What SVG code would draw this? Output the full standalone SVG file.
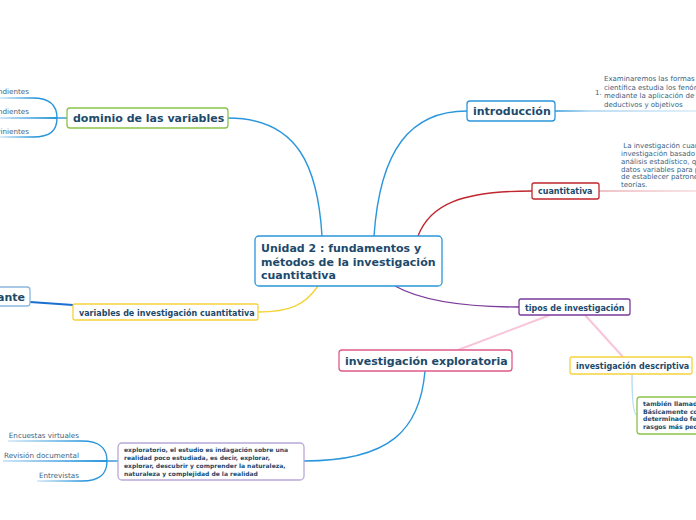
<svg xmlns="http://www.w3.org/2000/svg" width="696" height="520" viewBox="0 0 696 520">
<defs>
<linearGradient id="fadeL" x1="0" x2="1" y1="0" y2="0"><stop offset="0" stop-color="#cfe6f7"/><stop offset="1" stop-color="#2a96dc"/></linearGradient>
<linearGradient id="fadeR" x1="0" x2="1" y1="0" y2="0"><stop offset="0" stop-color="#2a96dc"/><stop offset="0.25" stop-color="#a8d2f0"/><stop offset="1" stop-color="#d8ebf8"/></linearGradient>
<linearGradient id="fadeRed" x1="0" x2="1" y1="0" y2="0"><stop offset="0" stop-color="#e08890"/><stop offset="1" stop-color="#f2c8cc"/></linearGradient>
</defs>
<style>
.t{font-family:"DejaVu Sans",Verdana,sans-serif;fill:#1d4a6b;font-weight:bold}
.n{font-family:"DejaVu Sans",Verdana,sans-serif;fill:#3a5f80}
.box{fill:#fff;stroke-width:1.3}
.c{fill:none;stroke-width:1.4}
</style>
<rect width="696" height="520" fill="#fff"/>
<g id="connectors">
<path class="c" stroke="#2a96dc" d="M228,118 C300,118 318,170 322,236"/>
<path class="c" stroke="#2a96dc" d="M374,236 C380,150 410,111 467,111"/>
<path class="c" stroke="#c0262d" d="M418,236 C430,205 460,191 532,191"/>
<path class="c" stroke="#7a3a9a" d="M395,286 C420,300 460,307 519,307"/>
<path class="c" stroke="#f5d33a" d="M318,286 C305,305 290,312 258,312"/>
<path fill="none" stroke="#1a6fd0" stroke-width="2.2" d="M30,302 L73,305"/>
<path fill="none" stroke="#f9c4da" stroke-width="2" d="M550,315 L458,350"/>
<path fill="none" stroke="#f9c4da" stroke-width="2" d="M585,315 L623,357"/>
<path fill="none" stroke="#b8dcf2" stroke-width="1.4" d="M632,374 C632,398 633,415 637,415"/>
<path class="c" stroke="#2a96dc" d="M425,371 C420,430 390,461 304,461"/>
<path fill="none" stroke="url(#fadeR)" stroke-width="1.4" d="M555,111 L696,111.01"/>
<path fill="none" stroke="url(#fadeRed)" stroke-width="1.2" d="M599,191 L696,191.01"/>
<path class="c" stroke="#2a96dc" d="M67,118 L57,118"/>
<path class="c" stroke="#2a96dc" d="M33,98 C50,98 57,105 57,118 C57,131 50,137 33,137"/>
<path fill="none" stroke="url(#fadeL)" stroke-width="1.4" d="M0,98 L33,98.01"/>
<path fill="none" stroke="url(#fadeL)" stroke-width="2" d="M0,118 L57,118.01"/>
<path fill="none" stroke="url(#fadeL)" stroke-width="1.4" d="M0,137 L33,137.01"/>
<path class="c" stroke="#2a96dc" d="M118,461 L107,461"/>
<path class="c" stroke="#2a96dc" d="M82,441 C100,441 107,448 107,461 C107,474 100,481 82,481"/>
<path fill="none" stroke="url(#fadeL)" stroke-width="1.4" d="M8,441 L82,441.01"/>
<path fill="none" stroke="url(#fadeL)" stroke-width="2" d="M3,461 L107,461.01"/>
<path fill="none" stroke="url(#fadeL)" stroke-width="1.4" d="M37,481 L82,481.01"/>
</g>
<g id="central">
<rect class="box" x="255" y="236" width="187" height="50" rx="4" stroke="#2a96dc"/>
<text class="t" font-size="11" x="261" y="252">Unidad 2 : fundamentos y</text>
<text class="t" font-size="11" x="261" y="265.5">métodos de la investigación</text>
<text class="t" font-size="11" x="261" y="279">cuantitativa</text>
</g>
<g id="dominio">
<rect class="box" x="67" y="108" width="161" height="20" rx="3" stroke="#8bc34a"/>
<text class="t" font-size="11" x="73" y="122">dominio de las variables</text>
</g>
<g id="dominio-leaves">
<text class="n" font-size="7.2" x="29" y="94" text-anchor="end">ndientes</text>
<text class="n" font-size="7.2" x="29" y="114" text-anchor="end">ndientes</text>
<text class="n" font-size="7.2" x="29" y="134" text-anchor="end">vinientes</text>
</g>
<g id="introduccion">
<rect class="box" x="467" y="101" width="88" height="20" rx="3" stroke="#2a96dc"/>
<text class="t" font-size="11" x="473" y="115">introducción</text>
</g>
<g id="introduccion-text">
<text class="n" font-size="7" x="595" y="95">1.</text>
<text class="n" font-size="7" x="604" y="81">Examinaremos las formas</text>
<text class="n" font-size="7" x="604" y="89.5">científica estudia los fenóm</text>
<text class="n" font-size="7" x="604" y="98">mediante la aplicación de</text>
<text class="n" font-size="7" x="604" y="106.5">deductivos y objetivos</text>
</g>
<g id="cuantitativa">
<rect class="box" x="532" y="183" width="67" height="16" rx="2" stroke="#c0262d"/>
<text class="t" font-size="8" x="538" y="194">cuantitativa</text>
</g>
<g id="cuantitativa-text">
<text class="n" font-size="7" x="621" y="148" xml:space="preserve"> La investigación cuant</text>
<text class="n" font-size="7" x="621" y="156">investigación basado e</text>
<text class="n" font-size="7" x="621" y="163.5">análisis estadístico, que</text>
<text class="n" font-size="7" x="621" y="171.5">datos variables para pr</text>
<text class="n" font-size="7" x="621" y="179">de establecer patrones</text>
<text class="n" font-size="7" x="621" y="187">teorías.</text>
</g>
<g id="tipos">
<rect class="box" x="519" y="299" width="111" height="16" rx="2" stroke="#7a3a9a"/>
<text class="t" font-size="8" x="525" y="310.5">tipos de investigación</text>
</g>
<g id="exploratoria">
<rect class="box" x="339" y="350" width="173" height="21" rx="3" stroke="#e05a8a"/>
<text class="t" font-size="11" x="345" y="365">investigación exploratoria</text>
</g>
<g id="descriptiva">
<rect class="box" x="570" y="357" width="122" height="17" rx="2" stroke="#f5d33a"/>
<text class="t" font-size="8" x="576" y="369">investigación descriptiva</text>
</g>
<g id="descriptiva-box">
<rect class="box" x="637" y="397" width="75" height="37" rx="3" stroke="#8bc34a"/>
<text class="t" font-size="6.2" x="643" y="406">también llamada</text>
<text class="t" font-size="6.2" x="643" y="413.5">Básicamente co</text>
<text class="t" font-size="6.2" x="643" y="421">determinado fen</text>
<text class="t" font-size="6.2" x="643" y="428.5">rasgos más pec</text>
</g>
<g id="variables">
<rect class="box" x="73" y="304" width="185" height="16" rx="2" stroke="#f5d33a"/>
<text class="t" font-size="8" x="79" y="315.5">variables de investigación cuantitativa</text>
</g>
<g id="ante">
<rect class="box" x="-20" y="287" width="50" height="19" rx="3" stroke="#8ab8e0"/>
<text class="t" font-size="11" x="25" y="301" text-anchor="end">ante</text>
</g>
<g id="exploratorio-box">
<rect class="box" x="118" y="443" width="186" height="37" rx="4" stroke="#b8a8d8"/>
<text class="t" font-size="6" x="124" y="452">exploratorio, el estudio es indagación sobre una</text>
<text class="t" font-size="6" x="124" y="460">realidad poco estudiada, es decir, explorar,</text>
<text class="t" font-size="6" x="124" y="468">explorar, descubrir y comprender la naturaleza,</text>
<text class="t" font-size="6" x="124" y="476">naturaleza y complejidad de la realidad</text>
</g>
<g id="exploratorio-leaves">
<text class="n" font-size="7.2" x="79" y="438" text-anchor="end">Encuestas virtuales</text>
<text class="n" font-size="7.2" x="79" y="458" text-anchor="end">Revisión documental</text>
<text class="n" font-size="7.2" x="79" y="478" text-anchor="end">Entrevistas</text>
</g>
</svg>
